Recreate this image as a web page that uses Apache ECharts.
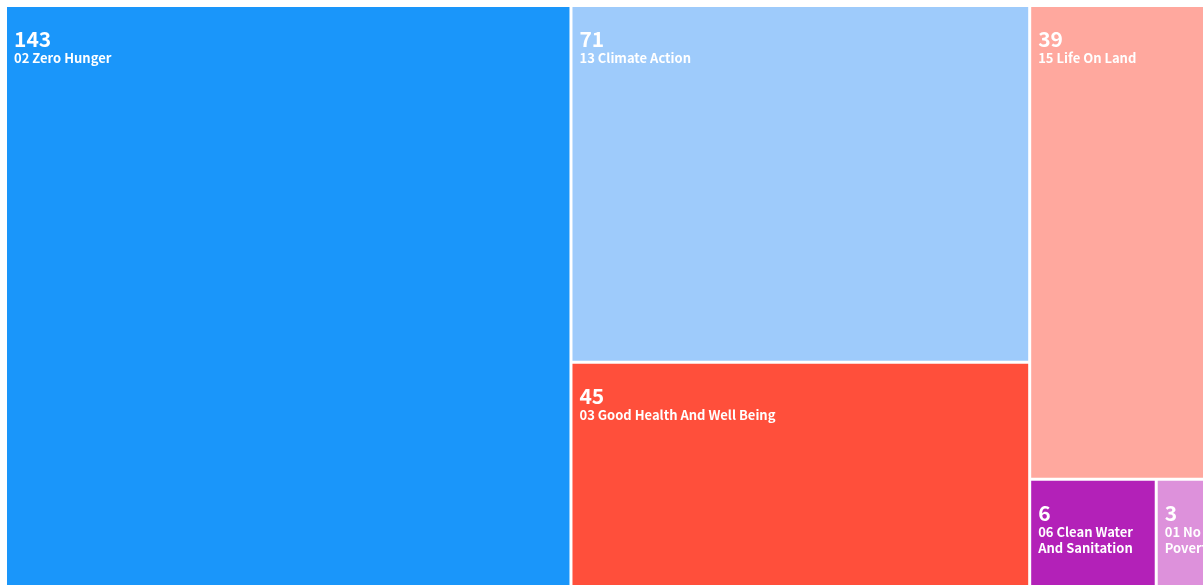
<!DOCTYPE html>
<html><head><meta charset="utf-8">
<script src="https://cdn.jsdelivr.net/npm/echarts@6/dist/echarts.min.js"></script>
<style>html,body{margin:0;padding:0;background:#fff;overflow:hidden}#c{width:1203px;height:585px}</style>
</head><body><div id="c"></div>
<script>
const names = ["02 Zero Hunger","13 Climate Action","03 Good Health And Well Being","15 Life On Land","06 Clean Water And Sanitation","01 No Poverty"];
const values = [143, 71, 45, 39, 6, 3];
const colors = ["#1A96FA","#9ECBFB","#FF4F3B","#FFA89E","#B321B8","#DD91DB"];

const chart = echarts.init(document.getElementById('c'), null, {renderer:'canvas'});
const data = names.map((n,i)=>({name:n, value:values[i], itemStyle:{color:colors[i]}}));
chart.setOption({
  animation:false,
  series:[{
    type:'treemap',
    left:7, top:7, width:1211, height:580,
    roam:false, nodeClick:false,
    breadcrumb:{show:false},
    itemStyle:{borderWidth:0, gapWidth:3, borderColor:'#fff'},
    label:{
      show:true, position:'insideTopLeft', distance:5,
      padding:[17,0,0,2],
      overflow:'break',
      fontFamily:'"Noto Sans CJK SC", sans-serif',
      formatter: '{v|{c}}{n|\n{b}}',
      rich:{
        v:{fontSize:21, lineHeight:21, fontWeight:600, color:'#fff', fontFamily:'"Noto Sans CJK SC", sans-serif'},
        n:{fontSize:13, lineHeight:16, fontWeight:'bold', color:'#fff', fontFamily:'"Noto Sans CJK SC", sans-serif'}
      }
    },
    data:data
  }]
});
</script></body></html>
